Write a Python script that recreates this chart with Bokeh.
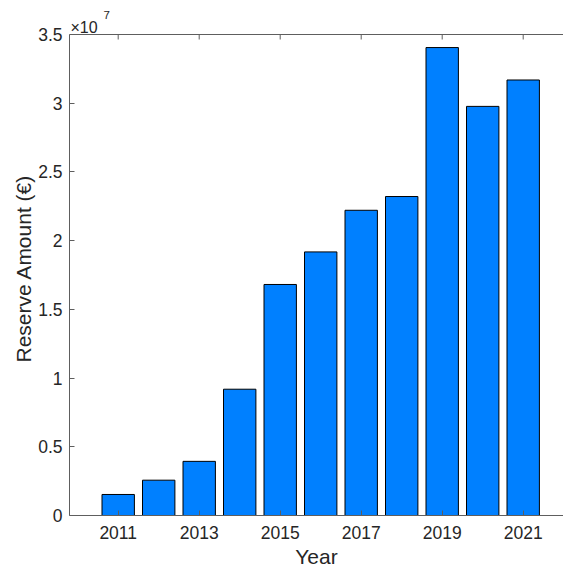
from bokeh.plotting import figure
from bokeh.models import (ColumnDataSource, FixedTicker, Label, Range1d, Span, Title)
from bokeh.embed import file_html
from bokeh.resources import INLINE

# Annual reserve amounts in euros
years = [2011, 2012, 2013, 2014, 2015, 2016, 2017, 2018, 2019, 2020, 2021]
reserve_eur = [1.53e6, 2.57e6, 3.94e6, 9.19e6, 1.681e7, 1.918e7,
               2.221e7, 2.321e7, 3.405e7, 2.977e7, 3.169e7]

x_ticks = [2011, 2013, 2015, 2017, 2019, 2021]
y_ticks = [0, 0.5e7, 1e7, 1.5e7, 2e7, 2.5e7, 3e7, 3.5e7]
y_tick_labels = ["0", "0.5", "1", "1.5", "2", "2.5", "3", "3.5"]

FONT = "Liberation Sans"
TEXT = "#262626"
AXIS = "#5e5e5e"

# The plotting frame runs to the top of the canvas so the exponent note above
# the box stays visible; the box itself ends at Y_TOP.
Y_TOP = 3.5e7
FRAME_PX = 515          # frame height in pixels
BOX_PX = 481            # pixels between 0 and Y_TOP
Y_END = Y_TOP * FRAME_PX / BOX_PX
PER_PX = Y_END / FRAME_PX
X_START, X_END = 2009.7975, 2021.995

src = ColumnDataSource(data=dict(year=years, amount=reserve_eur))

p = figure(width=563, height=570, output_backend="svg", toolbar_location=None,
           x_range=Range1d(X_START, X_END), y_range=Range1d(0, Y_END),
           min_border_left=69, min_border_right=0, min_border_top=0,
           min_border_bottom=55)
p.outline_line_color = None
p.grid.visible = False
p.background_fill_color = "white"
p.border_fill_color = "white"

p.vbar(x="year", top="amount", width=0.8, bottom=0, source=src,
       fill_color="#0080ff", line_color="black", line_width=1)

xa = p.xaxis[0]
xa.ticker = FixedTicker(ticks=x_ticks)
xa.axis_label = "Year"
ya = p.yaxis[0]
ya.ticker = FixedTicker(ticks=y_ticks)
ya.major_label_overrides = {t: s for t, s in zip(y_ticks, y_tick_labels)}
ya.bounds = (0, Y_TOP)

for ax in (xa, ya):
    ax.axis_line_color = AXIS
    ax.axis_line_width = 1
    ax.major_tick_line_color = AXIS
    ax.major_tick_in = 5
    ax.major_tick_out = 0
    ax.minor_tick_line_color = None
    ax.major_label_text_font = FONT
    ax.major_label_text_font_size = "17.5px"
    ax.major_label_text_color = TEXT
    ax.axis_label_text_font = FONT
    ax.axis_label_text_font_size = "21px"
    ax.axis_label_text_font_style = "normal"
    ax.axis_label_text_color = TEXT

xa.major_label_standoff = 10
xa.axis_label_standoff = 3
ya.major_label_standoff = 7

# y axis title
p.add_layout(Title(text="Reserve Amount (\u20ac)", align="left", offset=153,
                   standoff=2, vertical_align="bottom", text_font=FONT,
                   text_font_size="21px", text_font_style="normal",
                   text_color=TEXT), "left")

# Top edge of the box with inward ticks
p.add_layout(Span(location=Y_TOP, dimension="width", line_color=AXIS, line_width=1))
p.segment(x0=x_ticks, x1=x_ticks, y0=[Y_TOP] * len(x_ticks),
          y1=[Y_TOP - 5 * PER_PX] * len(x_ticks), line_color=AXIS, line_width=1)

# Exponent marker for the y axis
p.add_layout(Label(x=X_START, y=Y_TOP, x_offset=1, y_offset=7, text="\u00d710",
                   text_font=FONT, text_font_size="16px", text_color=TEXT,
                   text_baseline="alphabetic", text_align="left"))
p.add_layout(Label(x=X_START, y=Y_TOP, x_offset=34, y_offset=19.5, text="7",
                   text_font=FONT, text_font_size="11.5px", text_color=TEXT,
                   text_baseline="alphabetic", text_align="left"))

open("out.html", "w").write(file_html(p, INLINE))
